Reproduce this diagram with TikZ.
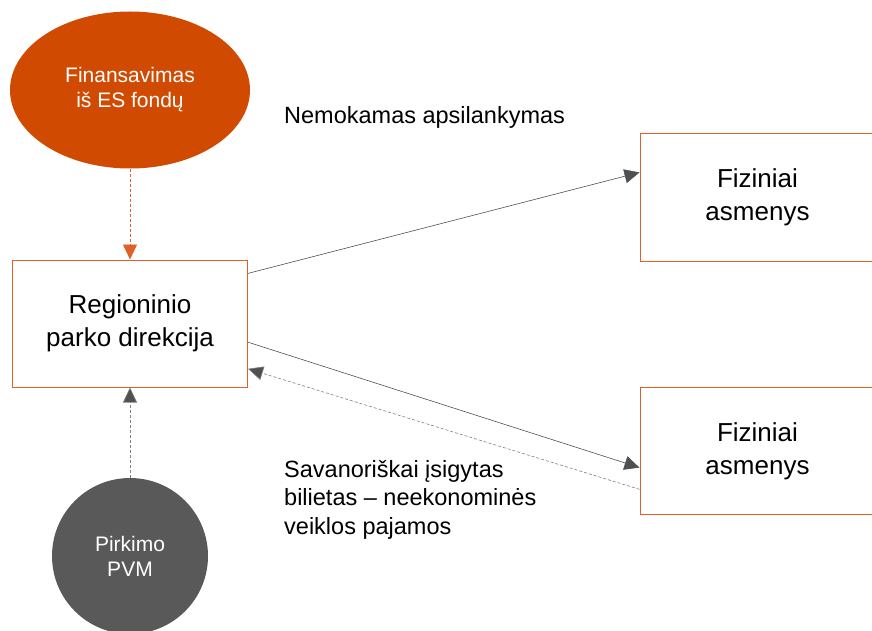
\documentclass[tikz,border=0pt]{standalone}
\usepackage{fontspec}
\setmainfont{Liberation Sans}
\usetikzlibrary{shapes.geometric,arrows.meta}
\definecolor{esorange}{HTML}{D04A02}
\definecolor{boxorange}{HTML}{E0602A}
\definecolor{pvmgray}{HTML}{595959}
\definecolor{linegray}{HTML}{505050}
\tikzset{
  partybox/.style={draw=boxorange, line width=1pt, minimum width=235, minimum height=127, align=center, font=\fontsize{26}{33}\selectfont},
  flow/.style={draw=linegray, line width=0.6pt, -{Triangle[length=15pt,width=14pt]}},
  paydash/.style={dash pattern=on 3pt off 2pt},
  note/.style={align=left, font=\fontsize{23.5}{28.5}\selectfont, inner sep=0pt},
}
\begin{document}
\begin{tikzpicture}[x=1pt,y=-1pt]
  \useasboundingbox (0,0) rectangle (872,631);
  \node[ellipse, fill=esorange, minimum width=240, minimum height=157, text=white, align=center, font=\fontsize{21}{25}\selectfont] (es) at (130,90) {Finansavimas\\iš ES fondų};
  \node[partybox] (direkcija) at (130,323.5) {Regioninio\\parko direkcija};
  \node[circle, fill=pvmgray, minimum size=156, text=white, align=center, font=\fontsize{21}{25}\selectfont] (pvm) at (130,556) {Pirkimo\\PVM};
  \node[partybox] (fiz1) at (757.5,197.5) {Fiziniai\\asmenys};
  \node[partybox] (fiz2) at (757.5,451) {Fiziniai\\asmenys};
  \node[note, anchor=west] (nemokamas) at (284,117) {Nemokamas apsilankymas};
  \node[note, anchor=north west] (bilietas) at (284,460) {Savanoriškai įsigytas\\bilietas – neekonominės\\veiklos pajamos};
  \draw[flow, draw=boxorange, paydash, -{Triangle[length=15pt,width=14pt,fill=boxorange]}] (es) -- (direkcija);
  \draw[flow, draw=gray, paydash, -{Triangle[length=15pt,width=14pt,fill=linegray]}] (pvm) -- (direkcija);
  \draw[flow] (direkcija.23) -- (fiz1.168);
  \draw[flow] (direkcija.-9) -- (fiz2.188);
  \draw[flow, draw=gray, paydash, -{Triangle[length=15pt,width=14pt,fill=linegray]}] (fiz2.198) -- (direkcija.-21);
\end{tikzpicture}
\end{document}
